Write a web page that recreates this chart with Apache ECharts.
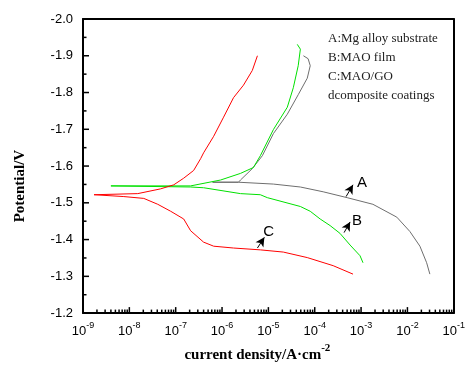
<!DOCTYPE html>
<html>
<head>
<meta charset="utf-8">
<script src="https://cdn.jsdelivr.net/npm/echarts@6/dist/echarts.min.js"></script>
<style>
  html, body { margin: 0; padding: 0; background: #fff; }
  #chart { width: 468px; height: 368px; }
</style>
</head>
<body>
<div id="chart"></div>
<script>
// current density (A/cm2), potential (V)
const curveA = [
  [3.05e-2, -1.306], [2.6e-2, -1.337], [1.86e-2, -1.382], [1.13e-2, -1.422], [5.9e-3, -1.461],
  [1.8e-3, -1.496], [5.0e-4, -1.514], [1.52e-4, -1.530], [4.9e-5, -1.543], [1.28e-5, -1.551],
  [2.26e-6, -1.556], [6.25e-7, -1.556], [2.26e-6, -1.556], [2.5e-6, -1.562], [4.5e-6, -1.593],
  [7.4e-6, -1.628], [1.28e-5, -1.688], [2.56e-5, -1.741], [4.4e-5, -1.794], [6.9e-5, -1.839],
  [8.0e-5, -1.873], [7.2e-5, -1.892], [5.7e-5, -1.900]
];
const curveB = [
  [1.1e-3, -1.337], [9.5e-4, -1.356], [5.8e-4, -1.385], [3.5e-4, -1.417], [2.15e-4, -1.438],
  [1.31e-4, -1.456], [8.0e-5, -1.477], [4.9e-5, -1.490], [9.5e-6, -1.514], [6.7e-6, -1.522],
  [2.5e-6, -1.525], [4.0e-7, -1.541], [2.1e-7, -1.543], [4.0e-9, -1.546], [2.1e-7, -1.546],
  [9.3e-7, -1.562], [2.5e-6, -1.580], [4.75e-6, -1.596], [6.7e-6, -1.628], [1.28e-5, -1.699],
  [2.56e-5, -1.760], [3.45e-5, -1.813], [4.4e-5, -1.873], [4.9e-5, -1.918], [4.2e-5, -1.931]
];
const curveC = [
  [6.7e-4, -1.306], [2.5e-4, -1.329], [6.9e-5, -1.351], [2.1e-5, -1.366], [6.7e-6, -1.372],
  [1.77e-6, -1.377], [6.6e-7, -1.382], [4.0e-7, -1.393], [2.1e-7, -1.424], [1.49e-7, -1.456],
  [7.8e-8, -1.477], [4.1e-8, -1.496], [2.05e-8, -1.512], [7.6e-9, -1.517], [1.73e-9, -1.522],
  [1.52e-8, -1.525], [4.75e-8, -1.538], [9.1e-8, -1.549], [1.49e-7, -1.567], [2.44e-7, -1.588],
  [3.45e-7, -1.620], [4.0e-7, -1.636], [6.6e-7, -1.681], [1.08e-6, -1.733], [1.77e-6, -1.786],
  [2.9e-6, -1.820], [4.5e-6, -1.860], [5.8e-6, -1.900]
];
// arrow annotations: [tail, head, label]
const arrows = [
  [[4.75e-4, -1.517], [6.7e-4, -1.549], 'A'],
  [[4.3e-4, -1.419], [5.8e-4, -1.448], 'B'],
  [[5.8e-6, -1.377], [8.2e-6, -1.406], 'C']
];
const arrowLabelShift = [[7, 9], [5, 10], [2, 5]];
const legendLines = ['A:Mg alloy substrate', 'B:MAO film', 'C:MAO/GO', 'dcomposite coatings'];
const yMin = -2.0, yMax = -1.2, yStep = 0.1;
const xMin = 1e-9, xMax = 1e-1;

// tick positions (drawn inward, through the axes' own scales)
const xMajorTicks = [1e-9, 1e-8, 1e-7, 1e-6, 1e-5, 1e-4, 1e-3, 1e-2, 1e-1];
const xMinorTicks = [];
xMajorTicks.slice(0, -1).forEach(d => { for (let k = 2; k <= 9; k++) xMinorTicks.push(k * d); });
const yMajorTicks = [-2.0, -1.9, -1.8, -1.7, -1.6, -1.5, -1.4, -1.3, -1.2];
const yMinorTicks = [-1.95, -1.85, -1.75, -1.65, -1.55, -1.45, -1.35, -1.25];

const chart = echarts.init(document.getElementById('chart'), null, { renderer: 'canvas' });

const lineSeries = (data, color) => ({
  type: 'line', data, xAxisIndex: 0, yAxisIndex: 0, showSymbol: false, symbol: 'none',
  lineStyle: { color, width: 1 }, animation: false, z: 3
});

const tickSeries = (values, dir, len) => ({
  type: 'custom', xAxisIndex: 0, yAxisIndex: 0, silent: true, clip: false, z: 6, animation: false,
  data: values.map(v => dir === 'x' ? [v, yMax] : [xMin, v]),
  renderItem: (params, api) => {
    const p = api.coord([api.value(0), api.value(1)]);
    const shape = dir === 'x'
      ? { x1: p[0], y1: p[1], x2: p[0], y2: p[1] - len }
      : { x1: p[0], y1: p[1], x2: p[0] + len, y2: p[1] };
    return { type: 'line', shape, style: { stroke: '#000', lineWidth: 1.5 } };
  }
});

const frameAxis = { show: true, lineStyle: { color: '#000', width: 2 } };

chart.setOption({
  animation: false,
  title: {
    text: legendLines.join('\n'), left: 328, top: 29, padding: 0,
    textStyle: { fontFamily: 'Liberation Serif', fontSize: 13, fontWeight: 'normal', lineHeight: 19, color: '#222' }
  },
  grid: { left: 83, right: 14, top: 19, bottom: 48 },
  xAxis: [{
    type: 'log', logBase: 10, min: xMin, max: xMax, splitNumber: 8, position: 'bottom', z: 5,
    axisLine: frameAxis,
    axisTick: { show: false },
    splitLine: { show: false },
    axisLabel: {
      margin: 8, color: '#000',
      formatter: v => '{b|10}{s|' + Math.round(Math.log10(v)) + '}',
      rich: {
        b: { fontFamily: 'Liberation Sans', fontSize: 13, color: '#000', lineHeight: 17, verticalAlign: 'bottom' },
        s: { fontFamily: 'Liberation Sans', fontSize: 9, color: '#000', lineHeight: 17, verticalAlign: 'top' }
      }
    },
    name: '{a|current density/A·cm}{s|-2}', nameLocation: 'middle', nameGap: 22,
    nameTextStyle: {
      padding: [0, 22, 0, 0],
      rich: {
        a: { fontFamily: 'Liberation Serif', fontWeight: 'bold', fontSize: 15, color: '#000', lineHeight: 20, verticalAlign: 'bottom' },
        s: { fontFamily: 'Liberation Serif', fontWeight: 'bold', fontSize: 11, color: '#000', lineHeight: 20, verticalAlign: 'top' }
      }
    }
  }, {
    type: 'value', min: -9, max: -1, position: 'top', z: 5,
    axisLine: frameAxis, axisTick: { show: false }, axisLabel: { show: false }, splitLine: { show: false }
  }],
  yAxis: [{
    type: 'value', inverse: true, min: yMin, max: yMax, interval: yStep, position: 'left', z: 5,
    axisLine: frameAxis,
    axisTick: { show: false },
    splitLine: { show: false },
    axisLabel: { margin: 10, color: '#000', fontFamily: 'Liberation Sans', fontSize: 13, formatter: v => v.toFixed(1) },
    name: 'Potential/V', nameLocation: 'middle', nameGap: 55,
    nameTextStyle: { fontFamily: 'Liberation Serif', fontWeight: 'bold', fontSize: 15, color: '#000', padding: [0, 40, 0, 0] }
  }, {
    type: 'value', inverse: true, min: yMin, max: yMax, position: 'right', z: 5,
    axisLine: frameAxis, axisTick: { show: false }, axisLabel: { show: false }, splitLine: { show: false }
  }],
  series: [
    Object.assign(lineSeries(curveA, '#6e6e6e'), {
      markLine: {
        silent: true, animation: false, symbol: ['none', 'arrow'], symbolSize: [7, 9],
        lineStyle: { color: '#000', width: 1, type: 'solid' },
        label: { show: true, position: 'end', distance: 4, color: '#000', fontFamily: 'Liberation Sans', fontSize: 15 },
        data: arrows.map((a, i) => [
          { coord: a[0], label: { formatter: a[2], offset: arrowLabelShift[i] } },
          { coord: a[1] }
        ])
      }
    }),
    lineSeries(curveB, '#00e000'),
    lineSeries(curveC, '#ff0000'),
    tickSeries(xMajorTicks, 'x', 6),
    tickSeries(xMinorTicks, 'x', 3.5),
    tickSeries(yMajorTicks, 'y', 6),
    tickSeries(yMinorTicks, 'y', 3.5)
  ]
});
</script>
</body>
</html>
